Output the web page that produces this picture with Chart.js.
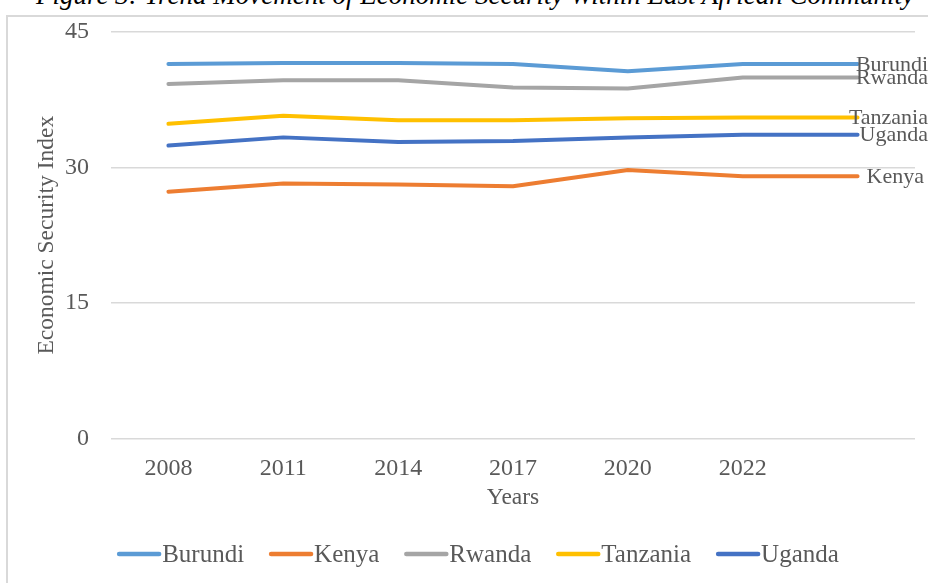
<!DOCTYPE html>
<html lang="en">
  <head>
    <meta charset="UTF-8" />
    <title>Economic Security Trend</title>
    <script src="https://cdn.jsdelivr.net/npm/chart.js"></script>
    <style>
      body { margin: 0; background: #fff; overflow: hidden; width: 928px; height: 583px; position: relative; }
      #title {
        position: absolute; left: 6px; width: 938px; top: -18px;
        font: italic 27px "Liberation Serif", serif; line-height: 1;
        text-align: center; color: #000; white-space: nowrap;
      }
      #frame { position: absolute; left: 6px; top: 15px; border: 2px solid #d9d9d9; }
      canvas { display: block; }
    </style>
  </head>
  <body>
    <div id="title">Figure 3: Trend Movement of Economic Security Within East African Community</div>
    <div id="frame"><canvas id="esChart" width="934" height="600"></canvas></div>

    <script>
      const years = ["2008", "2011", "2014", "2017", "2020", "2022", ""];
      const burundi = [41.4, 41.5, 41.5, 41.4, 40.6, 41.4, 41.4];
      const kenya = [27.3, 28.2, 28.1, 27.9, 29.7, 29.0, 29.0];
      const rwanda = [39.2, 39.6, 39.6, 38.8, 38.7, 39.9, 39.9];
      const tanzania = [34.8, 35.7, 35.2, 35.2, 35.4, 35.5, 35.5];
      const uganda = [32.4, 33.3, 32.8, 32.9, 33.3, 33.6, 33.6];

      const textColor = "#595959";
      const serif = "'Liberation Serif', 'Times New Roman', serif";

      function series(label, data, color) {
        return {
          label: label,
          data: data,
          borderColor: color,
          backgroundColor: color,
          borderWidth: 4,
          borderCapStyle: "round",
          borderJoinStyle: "round",
          pointRadius: 0,
          tension: 0,
        };
      }

      // name at the end of every line, kept inside the chart frame
      const endLabels = {
        id: "endLabels",
        afterDatasetsDraw(chart) {
          const ctx = chart.ctx;
          ctx.save();
          ctx.font = "22px " + serif;
          ctx.fillStyle = textColor;
          ctx.textAlign = "left";
          ctx.textBaseline = "middle";
          chart.data.datasets.forEach((ds, i) => {
            const pts = chart.getDatasetMeta(i).data;
            const p = pts[pts.length - 1];
            const w = ctx.measureText(ds.label).width;
            const x = Math.min(p.x + 9, chart.width - 14 - w);
            ctx.fillText(ds.label, x, p.y + 1);
          });
          ctx.restore();
        },
      };

      // excel-like legend: short thick line, label right next to it
      const lineLegend = {
        id: "lineLegend",
        afterDraw(chart) {
          const ctx = chart.ctx;
          const sets = chart.data.datasets;
          const lineW = 40, gapText = 3, gapItem = 27;
          ctx.save();
          ctx.font = "25px " + serif;
          const widths = sets.map((ds) => ctx.measureText(ds.label).width);
          let total = widths.reduce((a, b) => a + b, 0) + sets.length * (lineW + gapText) + (sets.length - 1) * gapItem;
          let x = (chart.width - total) / 2 + 4;
          const y = 537;
          ctx.textBaseline = "middle";
          ctx.textAlign = "left";
          sets.forEach((ds, i) => {
            ctx.strokeStyle = ds.borderColor;
            ctx.lineWidth = 4.5;
            ctx.lineCap = "round";
            ctx.beginPath();
            ctx.moveTo(x, y);
            ctx.lineTo(x + lineW, y);
            ctx.stroke();
            x += lineW + gapText;
            ctx.fillStyle = textColor;
            ctx.fillText(ds.label, x, y + 1);
            x += widths[i] + gapItem;
          });
          ctx.restore();
        },
      };

      const ctx = document.getElementById("esChart").getContext("2d");
      new Chart(ctx, {
        type: "line",
        data: {
          labels: years,
          datasets: [
            series("Burundi", burundi, "#5B9BD5"),
            series("Kenya", kenya, "#ED7D31"),
            series("Rwanda", rwanda, "#A5A5A5"),
            series("Tanzania", tanzania, "#FFC000"),
            series("Uganda", uganda, "#4472C4"),
          ],
        },
        options: {
          responsive: false,
          animation: false,
          layout: { padding: { top: 12, right: 27, bottom: 96, left: 0 } },
          plugins: {
            legend: { display: false },
            tooltip: { enabled: false },
          },
          scales: {
            x: {
              offset: true,
              grid: { display: false },
              border: { display: false },
              ticks: { color: textColor, font: { family: serif, size: 24 }, padding: 7, maxRotation: 0 },
              title: {
                display: true,
                text: "Years",
                color: textColor,
                font: { family: serif, size: 23.5 },
                padding: { top: 0, bottom: 9 },
              },
              afterFit(scale) { scale.height = 82; },
            },
            y: {
              min: 0,
              max: 45,
              ticks: { stepSize: 15, color: textColor, font: { family: serif, size: 24 }, padding: 0 },
              grid: { color: "#d9d9d9", lineWidth: 1.5, drawTicks: true, tickLength: 22, tickColor: "rgba(0,0,0,0)" },
              border: { display: false },
              title: {
                display: true,
                text: "Economic Security Index",
                color: textColor,
                font: { family: serif, size: 23.5 },
                padding: { top: 25, bottom: 0 },
              },
              afterFit(scale) { scale.width = 103; },
            },
          },
        },
        plugins: [endLabels, lineLegend],
      });
    </script>
  </body>
</html>
